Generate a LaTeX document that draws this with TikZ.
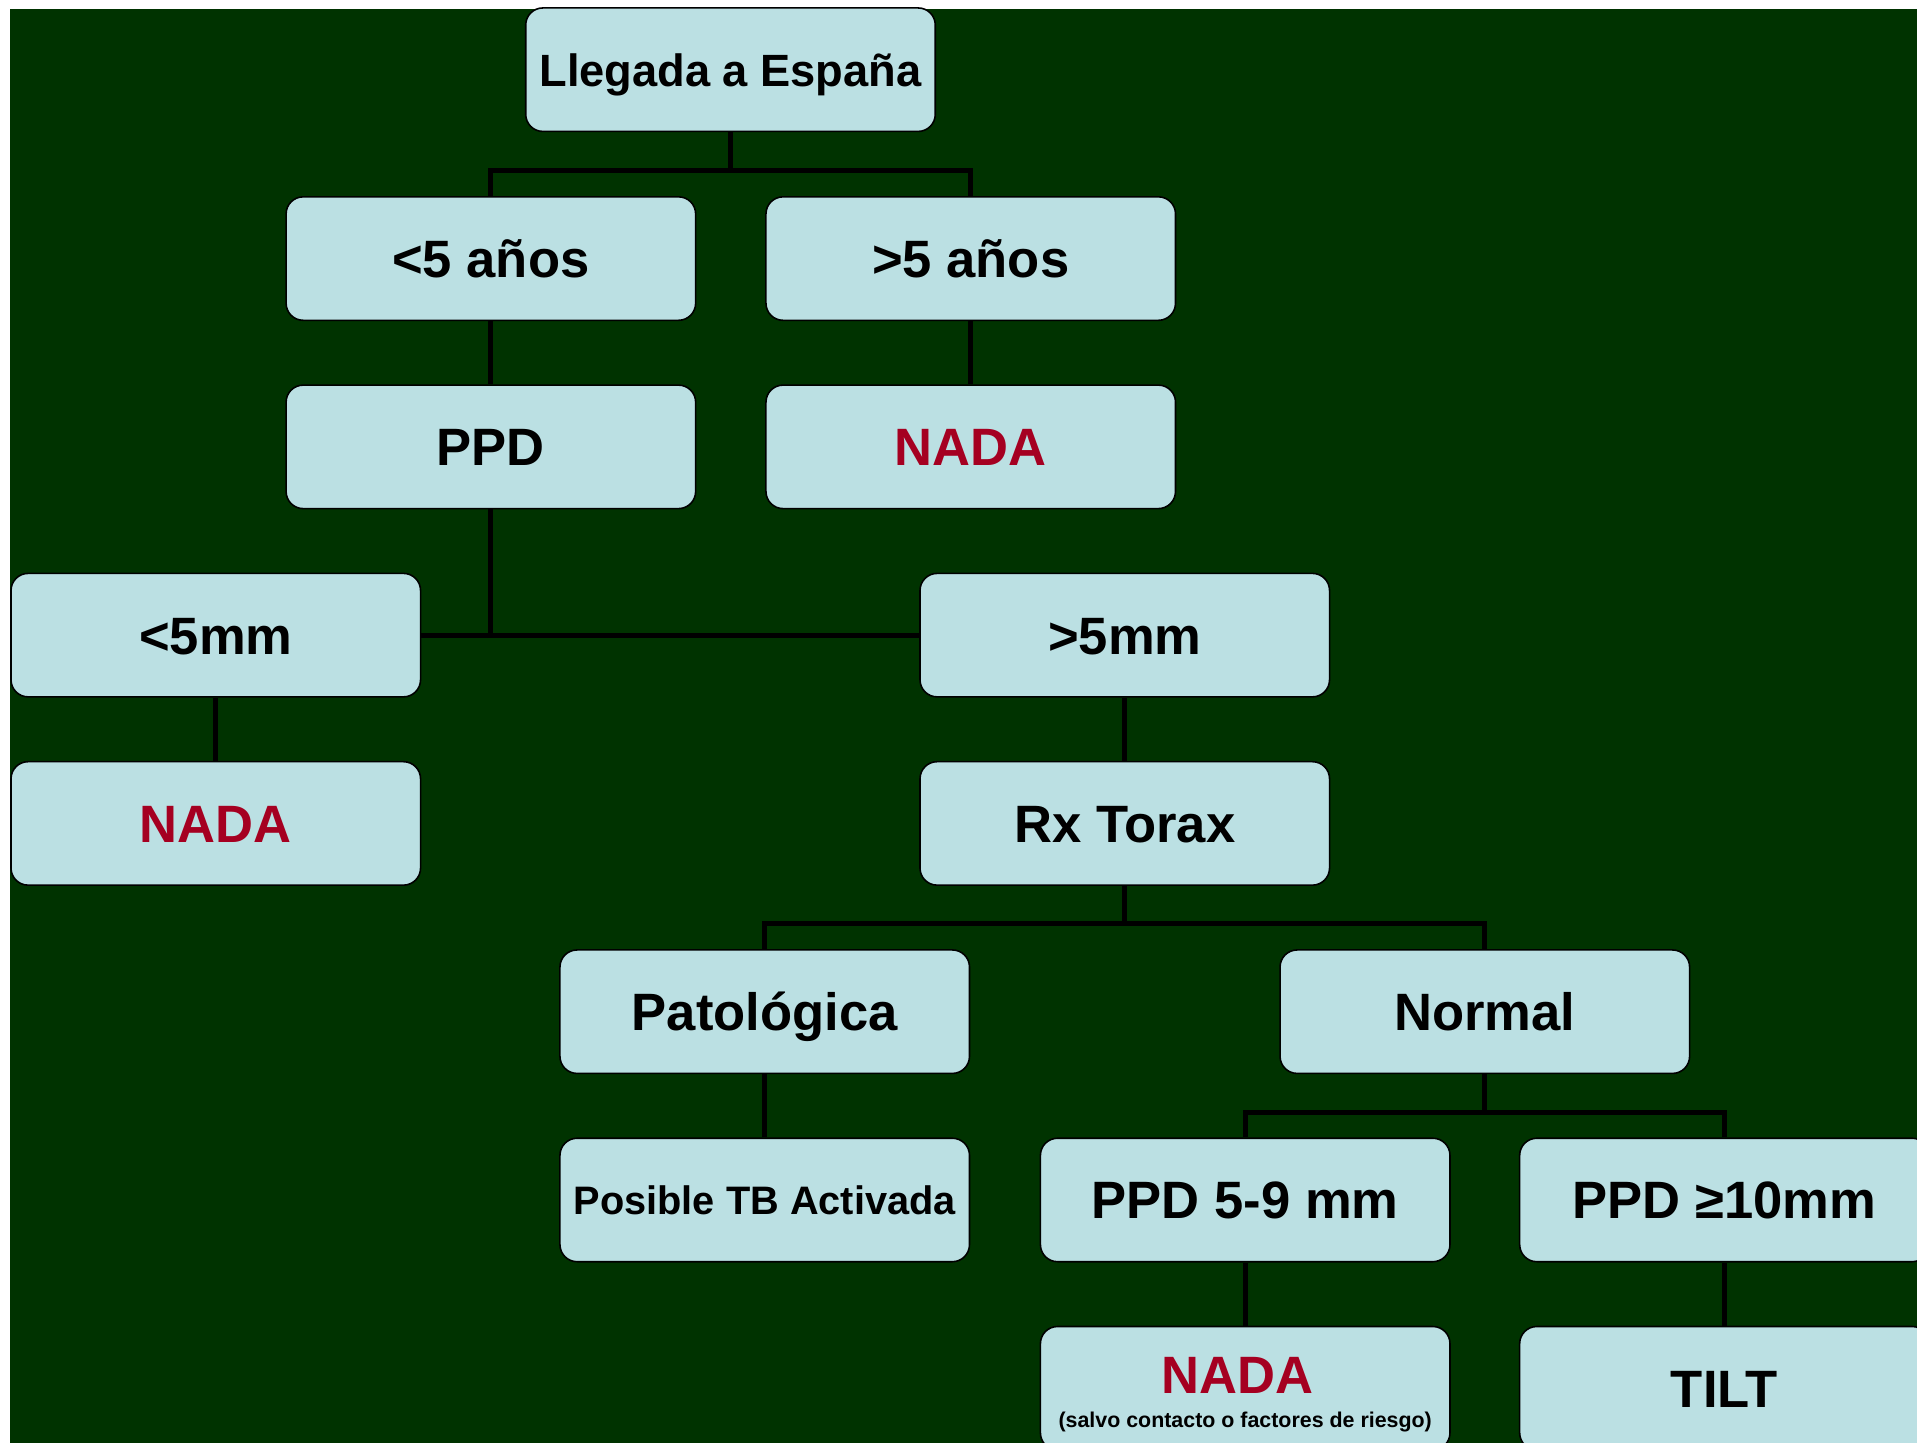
\documentclass[tikz,border=0pt]{standalone}
\usepackage{fontspec}
\setmainfont{Liberation Sans}
\definecolor{bggreen}{RGB}{0,51,0}
\definecolor{boxfill}{RGB}{187,224,227}
\definecolor{nadared}{RGB}{165,0,33}
\begin{document}
\begin{tikzpicture}[x=1pt,y=-1pt,
  box/.style={draw=black, line width=1.3pt, fill=boxfill, rounded corners=14pt,
    minimum width=335pt, minimum height=101pt, inner sep=0pt, align=center,
    text height=31pt, text depth=0pt,
    font=\fontsize{43}{48}\selectfont\bfseries},
  redtxt/.style={text=nadared},
  conn/.style={line width=4.2pt, draw=black, line join=miter}]
\useasboundingbox (0,0) rectangle (1568,1180);
\fill[white] (0,0) rectangle (1568,1180);
\fill[bggreen] (8,7) rectangle (1580,1200);

\node[box, text height=27pt, font=\fontsize{37}{42}\selectfont\bfseries] (lleg) at (597.5,57) {Llegada a España};
\node[box] (m5a) at (401.5,211.5) {<5 años};
\node[box] (M5a) at (794,211.5) {>5 años};
\node[box] (ppd) at (401.5,365.5) {PPD};
\node[box, redtxt] (nada1) at (794,365.5) {NADA};
\node[box] (m5mm) at (176.5,519.5) {<5mm};
\node[box] (M5mm) at (920,519.5) {>5mm};
\node[box, redtxt] (nada2) at (176.5,673.5) {NADA};
\node[box] (rx) at (920,673.5) {Rx Torax};
\node[box] (pat) at (625.5,827.5) {Patológica};
\node[box] (normal) at (1214.5,827.5) {Normal};
\node[box, text height=23.5pt, font=\fontsize{32.5}{38}\selectfont\bfseries] (posible) at (625.5,981.5) {Posible TB Activada};
\node[box] (ppd59) at (1018.5,981.5) {PPD 5-9 mm};
\node[box] (ppd10) at (1410.5,981.5) {PPD ≥10mm};
\node[box, redtxt, text depth=23pt] (nada3) at (1018.5,1135.5) {\hspace*{-12pt}NADA};
\node[anchor=base, inner sep=0pt, font=\fontsize{17.5}{20}\selectfont\bfseries] (nada3note) at ([yshift=-32.5pt]nada3.center) {(salvo contacto o factores de riesgo)};
\node[box] (tilt) at (1410.5,1135.5) {TILT};

\draw[conn] (lleg.south) -- ++(0,31) -| (m5a.north);
\draw[conn] (lleg.south) -- ++(0,31) -| (M5a.north);
\draw[conn] (m5a) -- (ppd);
\draw[conn] (M5a) -- (nada1);
\draw[conn] (ppd.south) -- (ppd.south |- m5mm.east);
\draw[conn] (m5mm.east) -- (M5mm.west);
\draw[conn] (m5mm) -- (nada2);
\draw[conn] (M5mm) -- (rx);
\draw[conn] (rx.south) -- ++(0,31) -| (pat.north);
\draw[conn] (rx.south) -- ++(0,31) -| (normal.north);
\draw[conn] (pat) -- (posible);
\draw[conn] (normal.south) -- ++(0,31) -| (ppd59.north);
\draw[conn] (normal.south) -- ++(0,31) -| (ppd10.north);
\draw[conn] (ppd59) -- (nada3);
\draw[conn] (ppd10) -- (tilt);
\end{tikzpicture}
\end{document}
